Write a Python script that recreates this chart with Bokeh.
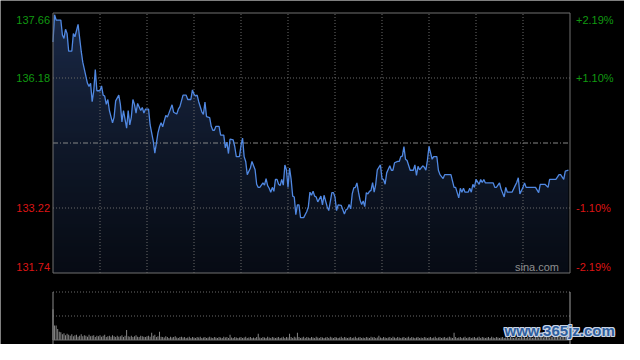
import numpy as np
from bokeh.plotting import figure
from bokeh.models import Range1d
from bokeh.core.properties import value
from bokeh.embed import file_html
from bokeh.resources import INLINE

# ---------------- data ----------------
minutes = [0, 1, 2, 5, 6, 7, 8, 9, 10, 12, 13, 14, 16, 18, 19, 22, 23, 24, 25, 26,
           27, 28, 30, 31, 32, 33, 34, 35, 36, 38, 39, 40, 42, 43, 44, 45, 47, 48, 49, 50,
           51, 52, 53, 54, 56, 57, 58, 59, 61, 62, 64, 65, 67, 68, 69, 70, 72, 73, 74, 76,
           77, 79, 80, 81, 83, 85, 86, 88, 89, 90, 91, 92, 93, 95, 96, 97, 98, 100, 101, 102,
           103, 104, 106, 107, 109, 110, 111, 112, 113, 115, 116, 117, 119, 120, 121, 122, 123, 124, 126, 127,
           129, 130, 131, 132, 134, 135, 136, 137, 138, 139, 140, 141, 142, 143, 144, 145, 146, 147, 148, 149,
           150, 151, 152, 153, 154, 155, 156, 157, 158, 160, 162, 163, 164, 165, 166, 167, 168, 169, 171, 172,
           173, 175, 176, 178, 179, 180, 181, 182, 184, 185, 186, 187, 188, 189, 190, 191, 192, 193, 194, 195,
           196, 197, 198, 199, 200, 201, 202, 203, 204, 205, 206, 207, 209, 210, 211, 212, 213, 215, 216, 217,
           218, 220, 221, 222, 223, 224, 225, 226, 228, 230, 231, 232, 233, 234, 236, 237, 238, 239, 240, 242,
           243, 245, 246, 247, 249, 250, 253, 254, 256, 257, 259, 260, 261, 262, 263, 265, 266, 267, 268, 269,
           270, 272, 273, 274, 275, 276, 281, 282, 283, 285, 286, 288, 289, 290, 293, 295, 296, 297, 298, 300,
           301, 302, 303, 308, 310, 311, 314, 316, 317, 321, 323, 324, 326, 327, 329]
prices = [137.00, 137.62, 137.50, 137.50, 137.16, 137.08, 137.29, 137.19, 136.79, 136.79,
          137.19, 137.12, 137.40, 136.79, 136.54, 136.06, 135.99, 136.06, 135.64, 135.88,
          136.37, 135.89, 135.89, 136.00, 135.79, 135.77, 135.58, 135.69, 135.44, 135.16,
          135.29, 135.66, 135.79, 135.58, 135.18, 135.44, 135.04, 135.44, 135.11, 135.29,
          135.69, 135.58, 135.38, 135.60, 135.44, 135.51, 135.38, 135.47, 135.47, 135.11,
          134.74, 134.47, 134.93, 135.07, 135.16, 135.07, 135.33, 135.29, 135.38, 135.57,
          135.40, 135.36, 135.47, 135.53, 135.79, 135.79, 135.69, 135.69, 135.91, 135.81,
          135.77, 135.79, 135.64, 135.41, 135.35, 135.63, 135.30, 135.28, 135.08, 134.99,
          134.99, 135.08, 135.08, 134.88, 134.88, 134.59, 134.72, 134.46, 134.79, 134.77,
          134.62, 134.39, 134.39, 134.64, 134.81, 134.39, 134.28, 133.98, 134.13, 134.28,
          134.09, 133.76, 133.69, 133.69, 133.79, 133.74, 133.89, 133.73, 133.67, 133.58,
          133.69, 133.60, 133.87, 133.87, 133.76, 133.73, 133.87, 133.74, 134.20, 134.09,
          133.69, 134.13, 133.87, 133.49, 133.47, 133.07, 133.29, 133.29, 133.00, 133.00,
          133.14, 133.25, 133.58, 133.51, 133.60, 133.49, 133.47, 133.36, 133.49, 133.29,
          133.51, 133.25, 133.16, 133.57, 133.57, 133.47, 133.16, 133.29, 133.28, 133.18,
          133.08, 133.18, 133.20, 133.30, 133.20, 133.54, 133.68, 133.69, 133.79, 133.58,
          133.40, 133.30, 133.38, 133.25, 133.57, 133.54, 133.60, 133.62, 133.80, 133.58,
          133.76, 134.09, 134.20, 133.89, 133.87, 133.76, 134.02, 134.18, 134.08, 134.08,
          134.25, 134.28, 134.28, 134.39, 134.40, 134.62, 134.33, 134.30, 134.08, 134.08,
          134.20, 133.96, 134.17, 134.09, 134.18, 134.15, 134.08, 134.31, 134.62, 134.33,
          134.39, 134.39, 134.08, 133.98, 133.89, 133.98, 133.98, 133.98, 133.69, 133.69,
          133.45, 133.67, 133.58, 133.67, 133.58, 133.58, 133.67, 133.58, 133.76, 133.69,
          133.87, 133.76, 133.87, 133.80, 133.87, 133.79, 133.79, 133.69, 133.69, 133.79,
          133.65, 133.47, 133.69, 133.58, 133.58, 133.73, 133.80, 133.91, 133.54, 133.69,
          133.79, 133.69, 133.69, 133.69, 133.57, 133.76, 133.76, 133.69, 133.87, 133.87,
          133.98, 133.98, 133.87, 134.06, 134.08]

volume = ([64, 30, 30, 23, 17, 16, 12, 14, 10, 13, 11, 9, 12, 8, 10, 11, 7, 9, 12, 8, 10, 9, 7, 11, 8, 9, 10, 6, 9, 8]
          + [10, 7, 9, 11, 6, 8, 9, 7, 10, 8, 6, 9, 7, 8, 10, 6, 9, 21, 8, 7, 9, 6, 8, 10, 7, 6, 9, 8, 7, 6]
          + [8, 9, 7, 15, 9, 11, 6, 8, 17, 7, 6, 5, 8, 6, 4, 7, 5, 6, 8, 5, 4, 6, 7, 5, 6, 4, 5, 7, 4, 6]
          + [5, 4, 6, 5, 7, 4, 5, 6, 4, 5, 7, 5, 4, 6, 5, 4, 6, 5, 4, 7, 5, 6, 4, 11, 5, 4, 6, 5, 4, 5]
          + [6, 4, 5, 7, 4, 5, 6, 4, 5, 4, 6, 13, 5, 4, 6, 5, 4, 7, 5, 4, 6, 5, 4, 5, 6, 4, 5, 7, 4, 6]
          + [5, 13, 6, 4, 7, 5, 15, 6, 4, 5, 7, 4, 6, 5, 4, 6, 5, 4, 7, 5, 4, 6, 5, 4, 5, 6, 4, 7, 5, 4]
          + [6, 5, 4, 5, 7, 4, 6, 5, 4, 5, 6, 4, 5, 7, 4, 5, 6, 4, 5, 4, 6, 5, 4, 7, 5, 6, 4, 5, 9, 5]
          + [4, 6, 5, 4, 5, 6, 4, 7, 5, 4, 6, 5, 4, 5, 6, 4, 5, 7, 4, 6, 5, 4, 5, 6, 4, 5, 4, 6, 5, 4]
          + [5, 6, 4, 5, 7, 4, 5, 6, 4, 5, 6, 4, 5, 7, 5, 4, 15, 6, 4, 5, 6, 4, 5, 7, 4, 5, 6, 4, 5, 6]
          + [4, 5, 7, 4, 6, 5, 4, 5, 6, 4, 7, 5, 4, 6, 5, 4, 5, 6, 4, 5, 7, 4, 6, 5, 4, 5, 6, 4, 5, 7]
          + [5, 6, 4, 7, 5, 6, 4, 5, 7, 6, 5, 8, 6, 5, 7, 6, 8, 5, 7, 6, 8, 7, 6, 9, 7, 8, 6, 7, 9, 8, 10])
vol_minutes = list(range(len(volume)))

prev_close = 134.70
y_ticks = [137.66, 136.18, 134.70, 133.22, 131.74]
price_labels = ["137.66", "136.18", "", "133.22", "131.74"]
pct_labels = ["+2.19%", "+1.10%", "", "-1.10%", "-2.19%"]
x_grid = [30, 60, 90, 120, 150, 180, 210, 240, 270, 300]
session_len = 330
vol_top = 100

# ---------------- style / layout (canvas pixels) ----------------
BG = "#000000"
FRAME = "#707070"
GRID = "#6a6a6a"
LINE = "#5088e2"
AREA = "#1b2a48"
UP = "#119911"
DOWN = "#dd1515"
FONT = "Liberation Sans"

CW, CH = 624, 344
L, R, T, B = 52.5, 569.5, 12.5, 272.5       # price panel frame
VT, VB = 291.5, 339.5                        # volume panel
ylo, yhi = min(y_ticks), max(y_ticks)

ppm = (R - L) / session_len          # px per minute
ppp = (B - T) / (yhi - ylo)          # px per price unit
ppv = (VB - VT) / vol_top            # px per volume unit

x_rng = Range1d(-L / ppm, session_len + (CW - R) / ppm)
y_rng = Range1d(ylo - (CH - B) / ppp, yhi + T / ppp)
v_rng = Range1d(-(CH - VB) / ppv, vol_top + VT / ppv)


def price_at(cy):
    return yhi + (T - cy) / ppp


def vol_at(cy):
    return (VB - cy) / ppv


def min_at(cx):
    return (cx - L) / ppm


p = figure(width=CW, height=CH, x_range=x_rng, y_range=y_rng,
           output_backend="svg", toolbar_location=None,
           x_axis_location=None, y_axis_location=None,
           min_border=0, min_border_left=0, min_border_right=0,
           min_border_top=0, min_border_bottom=0,
           background_fill_color=BG, border_fill_color=BG, outline_line_color=None)
p.grid.visible = False
p.extra_y_ranges = {"vol": v_rng}

# ---- price area with vertical gradient (1px black overlay rows) ----
p.varea(x=minutes, y1=ylo, y2=prices, fill_color=AREA)
band_px = np.arange(T + 0.5, B + 0.6, 1.0)
band_edges = [price_at(c) for c in band_px]
nb = len(band_edges) - 1
fracs = (np.arange(nb) + 0.5) / nb
p.quad(left=0, right=session_len, top=band_edges[:-1], bottom=band_edges[1:],
       fill_color="black", fill_alpha=list(0.93 * fracs), line_color=None)

# ---- grid ----
p.segment(x0=x_grid, y0=[ylo] * len(x_grid), x1=x_grid, y1=[yhi] * len(x_grid),
          line_color=GRID, line_dash="1 2", line_width=1)
inner = [y for y in y_ticks[1:-1] if abs(y - prev_close) > 1e-9]
p.segment(x0=[0] * len(inner), y0=inner, x1=[session_len] * len(inner), y1=inner,
          line_color=GRID, line_dash="1 2", line_width=1)
p.segment(x0=[0], y0=[prev_close], x1=[session_len], y1=[prev_close],
          line_color="#858585", line_dash="5 2 1 2", line_width=1)

# ---- price line ----
p.line(minutes, prices, line_color=LINE, line_width=1.3)

# ---- frame ----
p.quad(left=[0], right=[session_len], bottom=[ylo], top=[yhi],
       fill_color=None, line_color=FRAME, line_width=1)

# ---- tick labels ----
for yt, lab, pct in zip(y_ticks, price_labels, pct_labels):
    if not lab:
        continue
    col = UP if yt > prev_close else DOWN
    if yt == yhi:
        ypos = price_at(T + 6.5)
    elif yt == ylo:
        ypos = price_at(B - 6.5)
    else:
        ypos = yt
    p.text(x=[0], y=[ypos], text=[lab], x_offset=-3, text_align="right",
           text_baseline="middle", text_font=value(FONT), text_font_size="11px",
           text_color=col)
    p.text(x=[session_len], y=[ypos], text=[pct], x_offset=6, text_align="left",
           text_baseline="middle", text_font=value(FONT), text_font_size="11px",
           text_color=col)

p.text(x=[session_len], y=[price_at(B - 6)], text=["sina.com"], x_offset=-11,
       text_align="right", text_baseline="middle", text_font=value(FONT),
       text_font_size="11px", text_color="#8f8f8f")

# ---- volume panel ----
p.vbar(x=vol_minutes, top=volume, bottom=0, width=0.6, fill_color="#8c8c8c",
       line_color=None, y_range_name="vol")
p.segment(x0=[0, 0], y0=[vol_top, vol_top / 2], x1=[session_len, session_len],
          y1=[vol_top, vol_top / 2], line_color=GRID, line_dash="1 2", y_range_name="vol")
p.segment(x0=[0, session_len, 0], y0=[vol_top, vol_top, 0],
          x1=[0, session_len, session_len], y1=[vol_at(CH + 2), vol_at(CH + 2), 0],
          line_color=["#8a8a8a", "#a0a0a0", "#707070"], line_width=1, y_range_name="vol")

# ---- watermark ----
wm = "www.365jz.com"
wx, wy = min_at(504), vol_at(330)
for dx, dy in [(-1, -1), (-1, 0), (-1, 1), (0, -1), (0, 1), (1, -1), (1, 0), (1, 1)]:
    p.text(x=[wx], y=[wy], text=[wm], x_offset=dx, y_offset=dy, text_align="left",
           text_baseline="middle", text_font=value(FONT), text_font_style="bold",
           text_font_size="15px", text_color="#c9d3e3", y_range_name="vol")
p.text(x=[wx], y=[wy], text=[wm], text_align="left", text_baseline="middle",
       text_font=value(FONT), text_font_style="bold", text_font_size="15px",
       text_color="#2f5f9f", y_range_name="vol")

open("out.html", "w").write(file_html(p, INLINE))
